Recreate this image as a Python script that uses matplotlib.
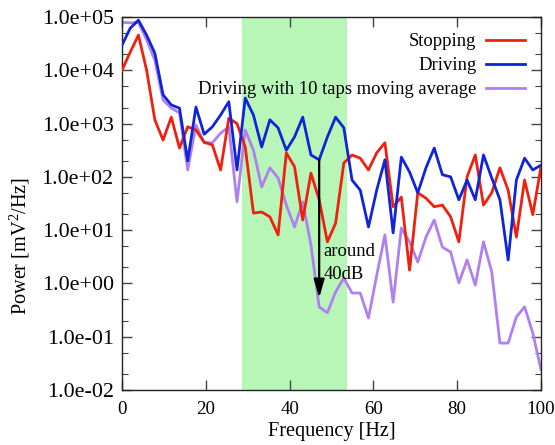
import numpy as np
import matplotlib
matplotlib.use("Agg")
import matplotlib.pyplot as plt
from matplotlib.ticker import FixedLocator, FuncFormatter, LogLocator, NullFormatter

plt.rcParams['font.family'] = ['Liberation Serif', 'DejaVu Serif']
plt.rcParams['mathtext.default'] = 'regular'

n_points = 52
freq = np.arange(n_points) * 100.0 / (n_points - 1)

# log10 of power values
stopping_log = [4.0, 4.34, 4.66, 4.0, 3.07, 2.69, 3.12, 2.54, 2.94, 2.88,
                2.65, 2.6, 2.13, 3.1, 3.0, 2.56, 1.32, 1.34, 1.25, 0.91,
                2.45, 2.19, 1.19, 2.07, 1.57, 0.78, 1.13, 2.26, 2.41, 2.35,
                2.13, 2.45, 2.64, 1.44, 1.62, 0.25, 1.70, 1.6, 1.44, 1.47,
                1.25, 0.78, 2.0, 2.41, 1.47, 1.70, 2.17, 1.75, 0.87, 1.94,
                1.29, 2.19]
driving_log = [4.47, 4.79, 4.94, 4.66, 4.32, 3.54, 3.35, 3.29, 2.3, 3.31,
               2.80, 2.94, 3.16, 3.41, 2.13, 3.48, 3.16, 2.56, 3.07, 2.92,
               2.5, 2.75, 3.12, 2.41, 2.32, 2.75, 3.12, 2.92, 1.94, 1.75,
               1.06, 1.75, 2.32, 0.95, 2.37, 2.09, 1.70, 2.17, 2.54, 2.04,
               2.0, 1.57, 1.94, 1.57, 2.41, 1.98, 1.57, 0.44, 1.94, 2.35,
               2.13, 2.22]
averaged_log = [4.9, 4.89, 4.9, 4.57, 4.19, 3.44, 3.29, 3.2, 2.13, 2.97,
                2.64, 2.64, 2.82, 2.94, 1.53, 2.88, 2.5, 1.81, 2.17, 1.98,
                1.47, 1.06, 1.53, 0.72, -0.44, -0.55, -0.16, 0.1, -0.18, -0.18,
                -0.65, 0.15, 0.91, -0.35, 1.04, 0.78, 0.40, 0.87, 1.19, 0.68,
                0.59, 0.01, 0.44, -0.03, 0.78, 0.22, -1.12, -1.12, -0.63, -0.44,
                -0.93, -1.62]

stopping = 10.0 ** np.array(stopping_log)
driving = 10.0 ** np.array(driving_log)
averaged = 10.0 ** np.array(averaged_log)

band = (28.6, 53.7)
arrow_f = 47.06
arrow_from = 10 ** 2.32
arrow_to = 10 ** -0.27

xticks = [0, 20, 40, 60, 80, 100]
yticks = [1e-2, 1e-1, 1e0, 1e1, 1e2, 1e3, 1e4, 1e5]

fig = plt.figure(figsize=(5.55, 4.45), dpi=100)
ax = fig.add_axes([0.2198, 0.1236, 0.9748 - 0.2198, 0.9618 - 0.1236])

ax.axvspan(band[0], band[1], color='#b8f6b8', lw=0, zorder=0)

l_avg, = ax.plot(freq, averaged, color='#b07ff0', lw=2.0, zorder=2,
                 label='Driving with 10 taps moving average')
l_stop, = ax.plot(freq, stopping, color='#f0200f', lw=2.0, zorder=3, label='Stopping')
l_drv, = ax.plot(freq, driving, color='#1024d8', lw=2.0, zorder=4, label='Driving')

ax.annotate('', xy=(arrow_f, arrow_to), xytext=(arrow_f, arrow_from),
            arrowprops=dict(arrowstyle='-|>,head_length=1.1,head_width=0.32',
                            color='black', lw=1.6, shrinkA=0, shrinkB=0),
            zorder=5)
ax.text(arrow_f + 1.0, 10 ** 0.6, 'around', fontsize=13.4, ha='left', va='center', zorder=6)
ax.text(arrow_f + 1.0, 10 ** 0.17, '40dB', fontsize=13.4, ha='left', va='center', zorder=6)

ax.set_yscale('log')
ax.set_xlim(0, 100)
ax.set_ylim(1e-2, 1e5)
ax.xaxis.set_major_locator(FixedLocator(xticks))
ax.yaxis.set_major_locator(FixedLocator(yticks))
ax.yaxis.set_minor_locator(LogLocator(base=10, subs=(2.0, 5.0), numticks=20))
ax.yaxis.set_minor_formatter(NullFormatter())
ax.yaxis.set_major_formatter(FuncFormatter(lambda v, p: f"{v:.1e}"))

ax.tick_params(which='both', direction='in', top=True, right=True, color='#444444')
ax.tick_params(axis='x', labelsize=13.6, pad=8)
ax.tick_params(axis='y', labelsize=15.8, pad=6)
ax.tick_params(which='major', length=7, width=1.0)
ax.tick_params(which='minor', length=4, width=0.8)
for s in ax.spines.values():
    s.set_color('#222222')
    s.set_linewidth(1.0)

ax.set_xlabel('Frequency [Hz]', fontsize=14.6, labelpad=3)
ax.set_ylabel('Power [mV$^{2}$/Hz]', fontsize=14.6)
ax.yaxis.set_label_coords(-0.214, 0.385)

leg = ax.legend(handles=[l_stop, l_drv, l_avg], loc='upper right', frameon=False,
                markerfirst=False, fontsize=13.4, handlelength=2.1, handletextpad=0.5,
                labelspacing=0.38, borderaxespad=0.4, bbox_to_anchor=(0.997, 0.997))

fig.savefig('out.png', dpi=100)
